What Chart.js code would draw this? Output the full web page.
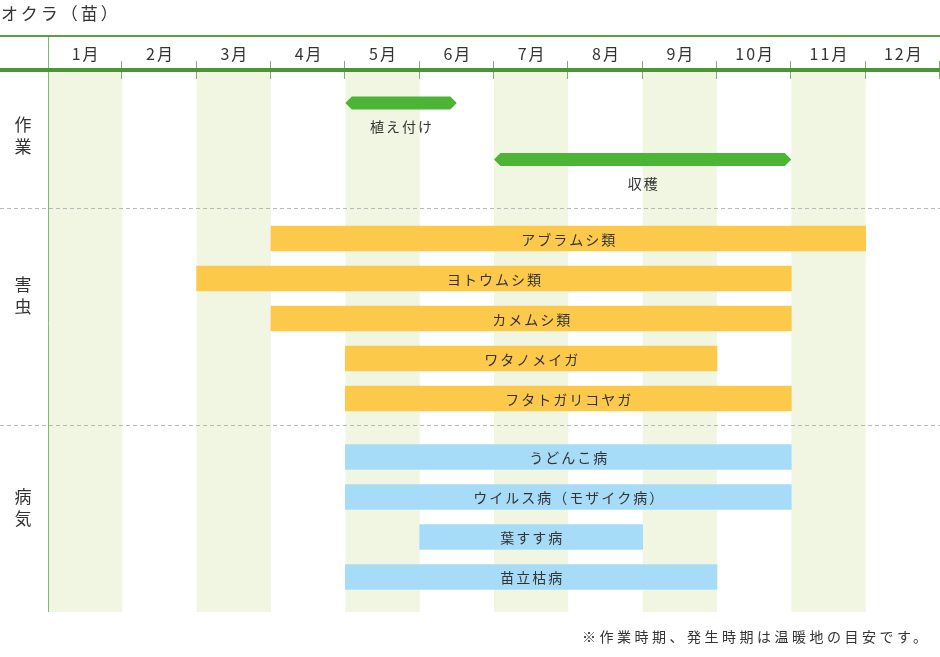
<!DOCTYPE html>
<html>
<head>
<meta charset="utf-8">
<script src="https://cdn.jsdelivr.net/npm/chart.js@4.4.1/dist/chart.umd.min.js"></script>
<style>
  html, body { margin: 0; padding: 0; background: #fff; }
  #wrap { position: relative; width: 940px; height: 657px; font-family: "Noto Sans CJK JP", "Noto Sans", sans-serif; color: #333; }
  #title { position: absolute; left: 1px; top: 1px; font-size: 17px; letter-spacing: 3px; line-height: 24px; }
  #note { position: absolute; left: 582px; top: 626px; font-size: 14px; letter-spacing: 3.5px; line-height: 20px; }
  canvas { position: absolute; left: 0; top: 0; }
</style>
</head>
<body>
<div id="wrap">
  <canvas id="chart" width="940" height="657"></canvas>
  <div id="title">オクラ（苗）</div>
  <div id="note">※作業時期、発生時期は温暖地の目安です。</div>
</div>
<script>
const months = ['1月', '2月', '3月', '4月', '5月', '6月', '7月', '8月', '9月', '10月', '11月', '12月'];
const groupNames = ['作業', '害虫', '病気'];

// start / end in months from Jan 1 (4 = start of May)
const workLabels = ['植え付け', '収穫'];
const workStart = [4, 6];
const workEnd = [5.5, 10];

const pestLabels = ['アブラムシ類', 'ヨトウムシ類', 'カメムシ類', 'ワタノメイガ', 'フタトガリコヤガ'];
const pestStart = [3, 2, 3, 4, 4];
const pestEnd = [11, 10, 10, 9, 10];

const diseaseLabels = ['うどんこ病', 'ウイルス病（モザイク病）', '葉すす病', '苗立枯病'];
const diseaseStart = [4, 4, 5, 4];
const diseaseEnd = [10, 10, 8, 9];

// vertical layout of the rows (px below the header line)
const workRows = workLabels.map((_, i) => 31 + i * 56.5);
const pestRows = pestLabels.map((_, i) => 166.5 + i * 40);
const diseaseRows = diseaseLabels.map((_, i) => 385 + i * 40);
const separators = [136, 353];
const groupCenters = [64, 224, 436];

const toPoints = (labels, start, end, rows) =>
  labels.map((name, i) => ({ x: [start[i], end[i]], y: rows[i], name }));

const font = '"Noto Sans CJK JP", "Noto Sans", sans-serif';

const frame = {
  id: 'frame',
  beforeDatasetsDraw(chart) {
    const { ctx, chartArea: a, scales: { x, y } } = chart;
    const W = chart.width;
    ctx.save();

    // month stripes
    ctx.fillStyle = '#f1f6e3';
    for (let m = 0; m < 12; m += 2) {
      const l = x.getPixelForValue(m), r = x.getPixelForValue(m + 1);
      ctx.fillRect(l, a.top, r - l, a.bottom - a.top);
    }

    // dashed separators between groups
    ctx.strokeStyle = '#b8b8b8';
    ctx.lineWidth = 1;
    ctx.setLineDash([4, 3]);
    separators.forEach(v => {
      const py = Math.round(y.getPixelForValue(v)) + 0.5;
      ctx.beginPath(); ctx.moveTo(0, py); ctx.lineTo(W, py); ctx.stroke();
    });
    ctx.setLineDash([]);

    // left border
    ctx.strokeStyle = '#82b86e';
    ctx.beginPath(); ctx.moveTo(a.left + 0.5, a.top - 37); ctx.lineTo(a.left + 0.5, a.bottom); ctx.stroke();

    // header lines
    ctx.fillStyle = '#5a9e45';
    ctx.fillRect(0, a.top - 37, W, 2);
    ctx.strokeStyle = '#8aa67c';
    for (let m = 1; m <= 12; m++) {
      const px = Math.round(x.getPixelForValue(m)) - 0.5;
      ctx.beginPath(); ctx.moveTo(px, a.top - 11); ctx.lineTo(px, a.top + 7); ctx.stroke();
    }
    ctx.fillStyle = '#4a9632';
    ctx.fillRect(0, a.top - 4, W, 4);

    // month labels
    ctx.fillStyle = '#333';
    ctx.font = '16px ' + font;
    ctx.textAlign = 'center';
    ctx.textBaseline = 'middle';
    ctx.letterSpacing = '2px';
    months.forEach((m, i) => ctx.fillText(m, x.getPixelForValue(i + 0.5) + 1, a.top - 18));
    ctx.letterSpacing = '0px';

    // group labels, stacked vertically
    ctx.font = '17px ' + font;
    groupNames.forEach((g, i) => {
      const cy = y.getPixelForValue(groupCenters[i]);
      [...g].forEach((ch, k) => ctx.fillText(ch, 23, cy - 11 + k * 22));
    });
    ctx.restore();
  },
  afterDatasetsDraw(chart) {
    const { ctx } = chart;
    ctx.save();
    ctx.fillStyle = '#333';
    ctx.font = '14px ' + font;
    ctx.letterSpacing = '2px';
    ctx.textAlign = 'center';
    ctx.textBaseline = 'middle';
    chart.data.datasets.forEach((ds, di) => {
      chart.getDatasetMeta(di).data.forEach((bar, i) => {
        const { x, base, y, height } = bar.getProps(['x', 'base', 'y', 'height'], true);
        const cx = (x + base) / 2 + 1;
        if (ds.arrow) {
          const h = height / 2;
          ctx.fillStyle = ds.arrowColor;
          ctx.beginPath();
          ctx.moveTo(base, y);
          ctx.lineTo(base + h, y - h);
          ctx.lineTo(x - h, y - h);
          ctx.lineTo(x, y);
          ctx.lineTo(x - h, y + h);
          ctx.lineTo(base + h, y + h);
          ctx.closePath();
          ctx.fill();
          ctx.fillStyle = '#333';
          ctx.fillText(ds.data[i].name, cx, y + 24);
        } else {
          ctx.fillText(ds.data[i].name, cx, y + 1);
        }
      });
    });
    ctx.restore();
  }
};

new Chart(document.getElementById('chart'), {
  type: 'bar',
  data: {
    datasets: [
      { label: '作業', data: toPoints(workLabels, workStart, workEnd, workRows),
        backgroundColor: 'rgba(0,0,0,0)', arrow: true, arrowColor: '#4cb535', barThickness: 13 },
      { label: '害虫', data: toPoints(pestLabels, pestStart, pestEnd, pestRows),
        backgroundColor: '#fcc94b', barThickness: 25 },
      { label: '病気', data: toPoints(diseaseLabels, diseaseStart, diseaseEnd, diseaseRows),
        backgroundColor: '#a7dcf9', barThickness: 25 }
    ]
  },
  options: {
    responsive: false,
    animation: false,
    indexAxis: 'y',
    grouped: false,
    layout: { padding: { left: 48, right: 0, top: 72, bottom: 45 } },
    scales: {
      x: { type: 'linear', min: 0, max: 12, offset: false, display: false },
      y: { type: 'linear', min: 0, max: 540, reverse: true, offset: false, display: false }
    },
    plugins: {
      legend: { display: false },
      tooltip: { enabled: false }
    }
  },
  plugins: [frame]
});
</script>
</body>
</html>
